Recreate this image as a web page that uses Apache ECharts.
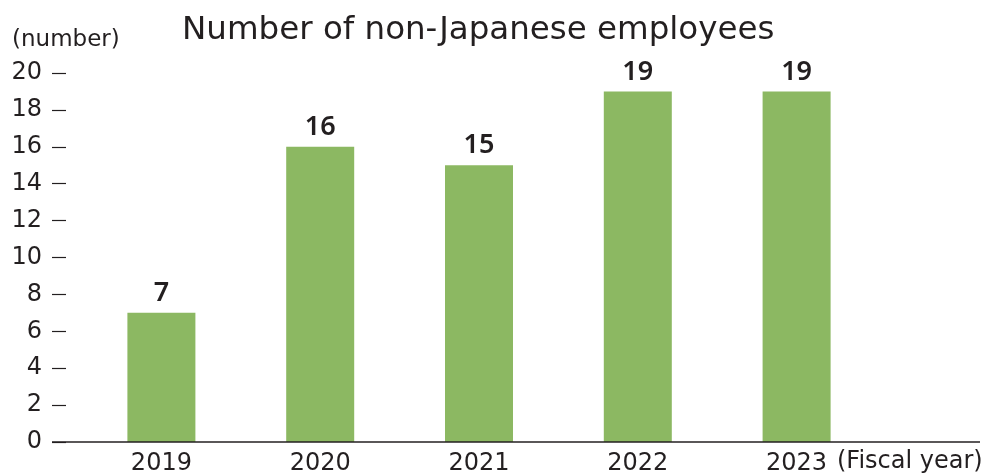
<!DOCTYPE html>
<html><head><meta charset="utf-8">
<script src="https://cdn.jsdelivr.net/npm/echarts@6/dist/echarts.min.js"></script>
<style>html,body{margin:0;padding:0;background:#fff}#c{width:984px;height:474px}</style>
</head><body><div id="c"></div>
<script>
const categories = ['2019', '2020', '2021', '2022', '2023'];
const employees = [7, 16, 15, 19, 19];
const yTicks = [0, 2, 4, 6, 8, 10, 12, 14, 16, 18, 20];
const titleText = 'Number of non-Japanese employees';
const yUnit = '(number)';
const xUnit = '(Fiscal year)';

const FONT = '"DejaVu Sans", sans-serif';
const chart = echarts.init(document.getElementById('c'));
chart.setOption({
  animation: false,
  backgroundColor: '#fff',
  title: {
    text: titleText, left: 177, top: 9,
    textStyle: { fontFamily: FONT, fontSize: 32.5, fontWeight: 'normal', color: '#231f20' }
  },
  grid: { left: 82, right: 108, top: 73, bottom: 32, containLabel: false, outerBoundsMode: 'none' },
  xAxis: {
    type: 'category', data: categories,
    axisLine: { show: false },
    axisTick: { show: false },
    axisLabel: { fontFamily: FONT, fontSize: 24, color: '#231f20', margin: 10 }
  },
  yAxis: {
    type: 'value', min: yTicks[0], max: yTicks[yTicks.length - 1], interval: 2,
    offset: 30,
    splitLine: { show: false },
    axisLine: { show: false },
    axisTick: { show: true, inside: true, length: 14, lineStyle: { color: '#231f20', width: 1.2 } },
    axisLabel: { fontFamily: FONT, fontSize: 24, color: '#231f20', margin: 10 }
  },
  series: [{
    type: 'bar', data: employees, barWidth: 68,
    itemStyle: { color: '#8cb862', borderWidth: 0 },
    label: { show: true, position: 'top', distance: 6, fontFamily: '"Noto Sans", sans-serif', fontSize: 27, fontWeight: 600, color: '#231f20' }
  }],
  graphic: [
    { type: 'line', shape: { x1: 52, y1: 442, x2: 980, y2: 442 }, style: { stroke: '#231f20', lineWidth: 1.3 }, z: 100 },
    { type: 'text', left: 12, top: 29, style: { text: yUnit, fontFamily: FONT, fontSize: 23, fill: '#231f20' } },
    { type: 'text', left: 837, top: 450, style: { text: xUnit, fontFamily: FONT, fontSize: 24, fill: '#231f20' } }
  ]
});
</script></body></html>
